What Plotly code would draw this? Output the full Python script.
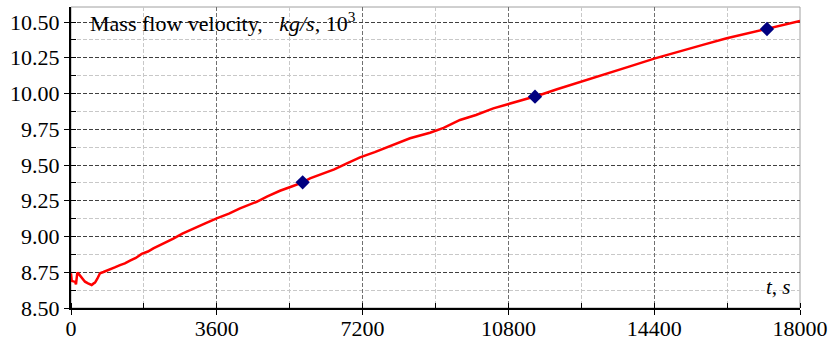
import plotly.graph_objects as go

# time, s
t_s = [0, 17, 60, 100, 123, 156, 200, 239, 300, 346, 420, 510, 560, 593, 650, 716,
       800, 880, 963, 1080, 1210, 1330, 1457, 1600, 1745, 1900, 2033, 2200, 2444,
       2527, 2750, 3020, 3300, 3597, 3900, 4173, 4400, 4584, 4850, 5160, 5450, 5720,
       5901, 6200, 6500, 6800, 7136, 7500, 7958, 8370, 8864, 9200, 9605, 10000,
       10428, 10900, 11457, 11580, 12000, 12600, 13200, 13800, 14420, 15000, 15600,
       16190, 16700, 17185, 17600, 18000]
# mass flow velocity, kg/s * 10^3
flow = [8.743, 8.690, 8.686, 8.684, 8.666, 8.747, 8.735, 8.719, 8.700, 8.684, 8.672,
        8.661, 8.672, 8.677, 8.705, 8.743, 8.752, 8.760, 8.770, 8.784, 8.800, 8.812,
        8.831, 8.850, 8.878, 8.895, 8.917, 8.940, 8.971, 8.985, 9.020, 9.057, 9.090,
        9.127, 9.160, 9.197, 9.220, 9.243, 9.280, 9.320, 9.350, 9.379, 9.407, 9.440,
        9.470, 9.510, 9.554, 9.590, 9.640, 9.687, 9.726, 9.760, 9.815, 9.850, 9.896,
        9.935, 9.978, 9.990, 10.030, 10.085, 10.140, 10.190, 10.246, 10.290, 10.340,
        10.386, 10.420, 10.451, 10.480, 10.507]

marker_t = [5720, 11457, 17185]
marker_v = [9.379, 9.978, 10.451]

x_ticks = [0, 3600, 7200, 10800, 14400, 18000]
y_ticks = [8.50, 8.75, 9.00, 9.25, 9.50, 9.75, 10.00, 10.25, 10.50]
y_labels = ["%.2f" % v for v in y_ticks]

FONT = "Liberation Serif"

fig = go.Figure()
fig.add_trace(go.Scatter(x=t_s, y=flow, mode="lines",
                         line=dict(color="#ff0000", width=2.5), showlegend=False))
fig.add_trace(go.Scatter(x=marker_t, y=marker_v, mode="markers",
                         marker=dict(symbol="diamond", size=11, color="#000080"),
                         showlegend=False))

fig.update_layout(
    width=828, height=342,
    margin=dict(l=71, r=28, t=7, b=34, autoexpand=False),
    paper_bgcolor="white", plot_bgcolor="white",
    font=dict(family=FONT, size=22, color="black"),
    shapes=[dict(type="rect", xref="paper", yref="paper", x0=0, y0=0, x1=1, y1=1,
                 line=dict(color="#a0a0a0", width=1), layer="below")],
    annotations=[
        dict(text="Mass flow velocity,&nbsp;&nbsp;&nbsp;<i>kg/s</i>, 10<sup>3</sup>",
             xref="paper", yref="paper", x=0.0233, y=0.95, xanchor="left",
             yanchor="middle", showarrow=False, font=dict(family=FONT, size=22)),
        dict(text="<i>t</i>, <i>s</i>", xref="paper", yref="paper", x=0.991, y=0.07,
             xanchor="right", yanchor="middle", showarrow=False,
             font=dict(family=FONT, size=21)),
    ],
)

fig.update_xaxes(
    range=[0, 18000], tickvals=x_ticks, ticktext=[str(v) for v in x_ticks],
    ticks="outside", ticklen=5, tickwidth=1, tickcolor="black",
    ticklabelstandoff=-5,
    showline=True, linecolor="black", linewidth=2, automargin=False,
    showgrid=True, gridcolor="#707070", gridwidth=1, griddash="4px,2px",
    minor=dict(dtick=1800, tick0=0, showgrid=True, gridcolor="#c8c8c8",
               griddash="4px,2px", ticks="inside", ticklen=5, tickcolor="black"),
    zeroline=False, tickfont=dict(family=FONT, size=22),
)
fig.update_yaxes(
    range=[8.5, 10.605], tickvals=y_ticks, ticktext=y_labels,
    ticks="outside", ticklen=5, tickwidth=1, tickcolor="black",
    showline=True, linecolor="black", linewidth=2, automargin=False,
    showgrid=True, gridcolor="#404040", gridwidth=1, griddash="4px,2px",
    minor=dict(dtick=0.125, tick0=8.5, showgrid=True, gridcolor="#c8c8c8",
               griddash="4px,2px", ticks="inside", ticklen=5, tickcolor="black"),
    zeroline=False, tickfont=dict(family=FONT, size=22),
)

fig.write_html("out.html", config={"displayModeBar": False},
               post_script="document.body.style.margin='0';document.body.style.padding='0';")
